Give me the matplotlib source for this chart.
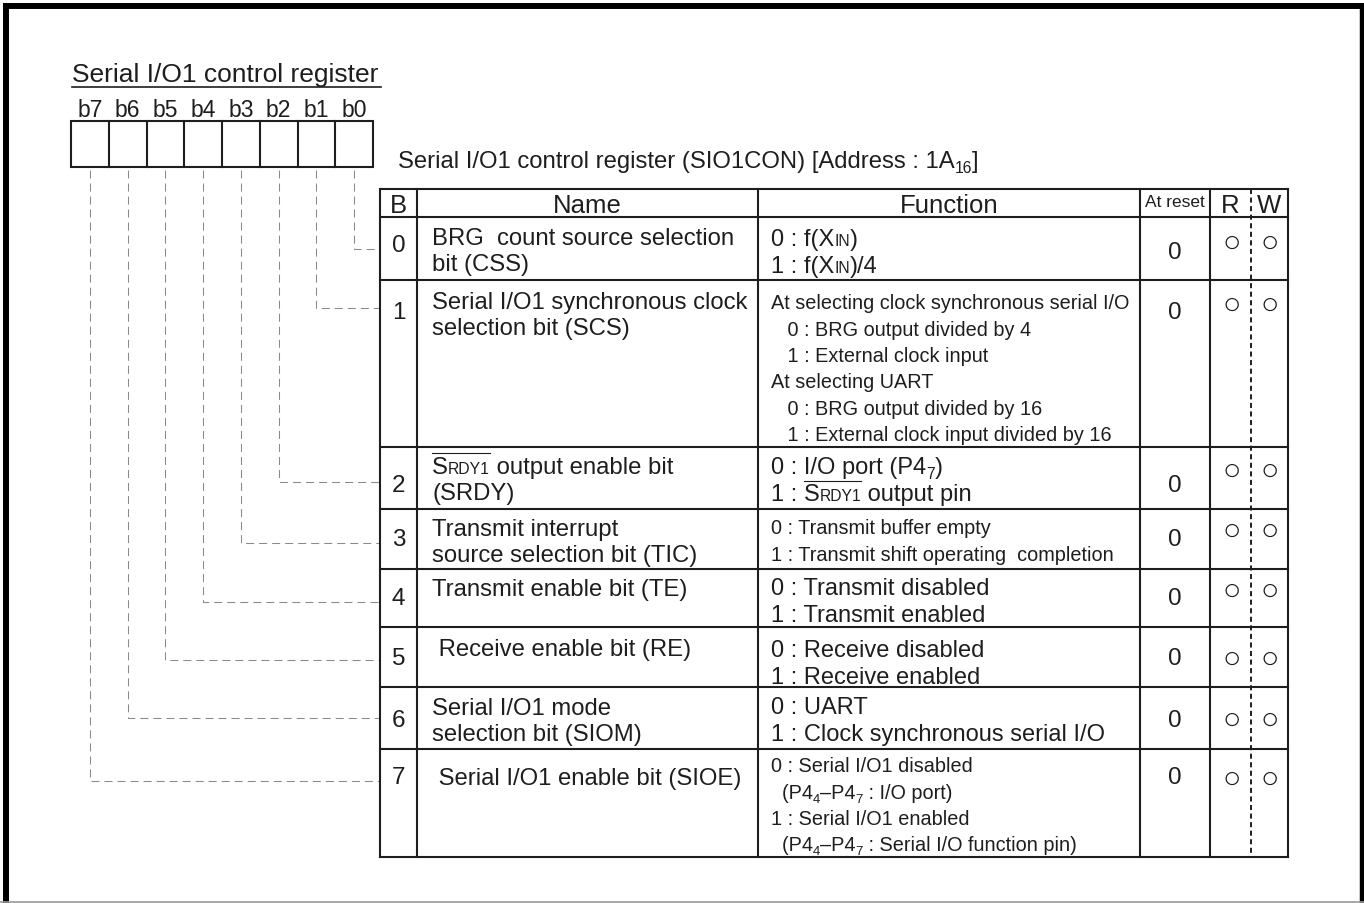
import re
import matplotlib
matplotlib.use('Agg')
import matplotlib.pyplot as plt
from matplotlib import font_manager
from matplotlib.font_manager import FontProperties

# ---- content of the register diagram ----
title = 'Serial I/O1 control register'
bit_labels = ['b7', 'b6', 'b5', 'b4', 'b3', 'b2', 'b1', 'b0']
table_title = 'Serial I/O1 control register (SIO1CON) [Address : 1A<sub>16</sub>]'
headers = ['B', 'Name', 'Function', 'At reset', 'R', 'W']
bit_no = ['0', '1', '2', '3', '4', '5', '6', '7']
names = [
    ['BRG  count source selection', 'bit (CSS)'],
    ['Serial I/O1 synchronous clock', 'selection bit (SCS)'],
    ['<ov>S<sc>RDY1</sc></ov> output enable bit', '(SRDY)'],
    ['Transmit interrupt', 'source selection bit (TIC)'],
    ['Transmit enable bit (TE)'],
    [' Receive enable bit (RE)'],
    ['Serial I/O1 mode', 'selection bit (SIOM)'],
    [' Serial I/O1 enable bit (SIOE)'],
]
functions = [
    ['0 : f(X<sc>IN</sc>)', '1 : f(X<sc>IN</sc>)/4'],
    ['At selecting clock synchronous serial I/O',
     '   0 : BRG output divided by 4',
     '   1 : External clock input',
     'At selecting UART',
     '   0 : BRG output divided by 16',
     '   1 : External clock input divided by 16'],
    ['0 : I/O port (P4<sub>7</sub>)', '1 : <ov>S<sc>RDY1</sc></ov> output pin'],
    ['0 : Transmit buffer empty', '1 : Transmit shift operating  completion'],
    ['0 : Transmit disabled', '1 : Transmit enabled'],
    ['0 : Receive disabled', '1 : Receive enabled'],
    ['0 : UART', '1 : Clock synchronous serial I/O'],
    ['0 : Serial I/O1 disabled',
     '  (P4<sub>4</sub>\u2013P4<sub>7</sub> : I/O port)',
     '1 : Serial I/O1 enabled',
     '  (P4<sub>4</sub>\u2013P4<sub>7</sub> : Serial I/O function pin)'],
]
narrow_rows = [1, 3, 7]   # rows whose function text is set condensed
at_reset = ['0', '0', '0', '0', '0', '0', '0', '0']
read_ok = ['\u25cb'] * 8
write_ok = ['\u25cb'] * 8

# ---- layout in pixels (y grows downward) ----
W, H = 1364, 904
PX = 100 / 72.0
box_x0, box_x1, box_y0, box_y1 = 71, 373, 122, 168
col_x = [380, 417, 758, 1140, 1210, 1288]
rw_split = 1251
row_edges = [190, 218, 281, 448, 510, 570, 628, 688, 750, 858]
b_y = [243, 310, 483, 537, 596, 656, 718, 775]
reset_y = [250, 310, 483, 537, 596, 656, 718, 775]
link_y = [250, 309, 483, 544, 603, 661, 719, 782]
name_off = [18, 19, 17, 17, 17, 19, 18, 26]
func_off = [20, 20, 18, 16, 17, 21, 18, 14]
mark_y = [240, 302, 468, 528, 588, 656, 717, 776]
pitch = 26.3

INK = '#1e1e1e'
REG = 'Liberation Sans'
avail = {f.name for f in font_manager.fontManager.ttflist}
if 'Liberation Sans Narrow' in avail:
    NARROW, NARROW_SIZE = 'Liberation Sans Narrow', 17.5
else:
    NARROW, NARROW_SIZE = 'Liberation Sans', 14.3

fig = plt.figure(figsize=(W / 100, H / 100), dpi=100)
fig.patch.set_facecolor('white')
ax = fig.add_axes([0, 0, 1, 1])
ax.set_xlim(0, W)
ax.set_ylim(H, 0)
ax.axis('off')
renderer = fig.canvas.get_renderer()

TAG = re.compile(r'(</?(?:sc|sub|ov)>)')


def advance(s, fs, family):
    # width including trailing blanks: measure with a trailing 'I' and take it off again
    prop = FontProperties(family=family, size=fs)
    w1 = renderer.get_text_width_height_descent(s + 'I', prop, ismath=False)[0]
    w2 = renderer.get_text_width_height_descent('I', prop, ismath=False)[0]
    return w1 - w2


def rich(x, y, markup, size, family=REG, ha='left'):
    """draw a line with <sc> small, <sub> subscript and <ov> overline parts; y is baseline"""
    segs = []
    st = {'sc': False, 'sub': False, 'ov': False}
    for tok in TAG.split(markup):
        if not tok:
            continue
        m = re.fullmatch(r'<(/?)(sc|sub|ov)>', tok)
        if m:
            st[m.group(2)] = m.group(1) == ''
            continue
        fs = size * 0.66 if (st['sc'] or st['sub']) else size
        dy = size * PX * 0.2 if st['sub'] else 0
        segs.append((tok, fs, dy, st['ov'], advance(tok, fs, family)))
    total = sum(s[4] for s in segs)
    cur = x - total / 2 if ha == 'center' else x
    ov0 = None
    for tok, fs, dy, ov, w in segs:
        if ov and ov0 is None:
            ov0 = cur
        if not ov and ov0 is not None:
            ax.plot([ov0, cur], [y - size * PX * 0.8] * 2, color=INK, lw=0.8)
            ov0 = None
        ax.text(cur, y + dy, tok, fontsize=fs, family=family, color=INK,
                ha='left', va='baseline')
        cur += w
    if ov0 is not None:
        ax.plot([ov0, cur], [y - size * PX * 0.8] * 2, color=INK, lw=0.8)


def cap_base(center, size):
    return center + 0.716 * size * PX / 2

# outer frame
ax.plot([6, 6], [4, H], color='black', lw=4.3, solid_capstyle='butt')
ax.plot([3, W], [7, 7], color='black', lw=4.3, solid_capstyle='butt')
ax.plot([1361.5, 1361.5], [4, H], color='black', lw=3.2, solid_capstyle='butt')
ax.plot([0, W], [902.5, 902.5], color='#999999', lw=1.2)

# heading and bit boxes
ax.text(72, 82, title, fontsize=19, family=REG, color=INK, va='baseline')
ax.plot([72, 381], [87.5, 87.5], color=INK, lw=1.2)
bw = (box_x1 - box_x0) / 8
for i, lab in enumerate(bit_labels):
    cx = box_x0 + bw * (i + 0.5)
    ax.text(cx, 117, lab, fontsize=16.5, family=REG, color=INK, ha='center', va='baseline')
ax.add_patch(plt.Rectangle((box_x0, box_y0), box_x1 - box_x0, box_y1 - box_y0,
                           fill=False, ec=INK, lw=1.5))
for i in range(1, 8):
    xx = box_x0 + bw * i
    ax.plot([xx, xx], [box_y0, box_y1], color=INK, lw=1.5)

# dashed leaders from each bit box to its table row
for i in range(8):
    bit = int(bit_no[i])
    cx = box_x0 + bw * (7 - bit + 0.5)
    ax.plot([cx, cx, col_x[0]], [box_y1 + 3, link_y[i], link_y[i]], color='#8a8a8a',
            lw=0.75, dashes=(7.7, 4.8))

# table
rich(398, 168, table_title, 17.2)
for yy in row_edges:
    ax.plot([col_x[0], col_x[-1]], [yy, yy], color=INK, lw=1.5, solid_capstyle='projecting')
for xx in col_x:
    ax.plot([xx, xx], [row_edges[0], row_edges[-1]], color=INK, lw=1.5,
            solid_capstyle='projecting')
ax.plot([rw_split, rw_split], [row_edges[0], row_edges[-1]], color=INK, lw=1.4,
        dashes=(2.6, 1.8))

hx = [(col_x[0] + col_x[1]) / 2, (col_x[1] + col_x[2]) / 2, (col_x[2] + col_x[3]) / 2,
      (col_x[3] + col_x[4]) / 2, (col_x[4] + rw_split) / 2, (rw_split + col_x[5]) / 2]
hsize = [18.5, 18.5, 18.5, 12.5, 18.5, 18.5]
for j, h in enumerate(headers):
    yb = 207 if hsize[j] < 15 else 213
    ax.text(hx[j], yb, h, fontsize=hsize[j], family=REG, color=INK, ha='center', va='baseline')

for i in range(8):
    top = row_edges[i + 1]
    ax.text(hx[0], cap_base(b_y[i], 17.5), bit_no[i], fontsize=17.5, family=REG,
            color=INK, ha='center', va='baseline')
    for k, line in enumerate(names[i]):
        rich(432, cap_base(top + name_off[i] + k * pitch, 17.2), line, 17.2)
    if i in narrow_rows:
        fam, fsz = NARROW, NARROW_SIZE
    else:
        fam, fsz = REG, 17
    for k, line in enumerate(functions[i]):
        rich(771, cap_base(top + func_off[i] + k * pitch, 17), line, fsz, fam)
    ax.text(hx[3], cap_base(reset_y[i], 17.5), at_reset[i], fontsize=17.5, family=REG,
            color=INK, ha='center', va='baseline')
    ax.text(hx[4] + 1, mark_y[i], read_ok[i], fontsize=22, family=[REG, 'DejaVu Sans'],
            color=INK, ha='center', va='center_baseline')
    ax.text(hx[5], mark_y[i], write_ok[i], fontsize=22, family=[REG, 'DejaVu Sans'],
            color=INK, ha='center', va='center_baseline')

fig.savefig('out.png', dpi=100, facecolor='white')
